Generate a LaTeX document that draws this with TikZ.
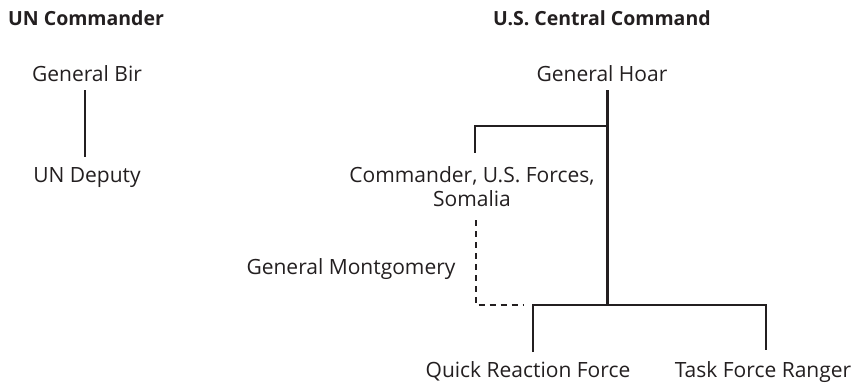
\documentclass[tikz,border=0pt]{standalone}
\usepackage{fontspec}
\setmainfont{Open Sans}
\usetikzlibrary{calc}
\definecolor{ink}{HTML}{231F20}
\begin{document}
\begin{tikzpicture}[x=1bp,y=-1bp,
  every node/.style={inner sep=0pt, anchor=base, text=ink, font=\fontsize{21bp}{24bp}\selectfont},
  title/.style={anchor=base west, font=\fontsize{19.5bp}{24bp}\selectfont\bfseries},
  conn/.style={draw=ink, line width=2.6bp},
  tacon/.style={draw=ink, line width=1.8bp, dash pattern=on 6bp off 5bp}]
\useasboundingbox (0,0) rectangle (855,382);
\node[title] (unc) at (8,25) {UN Commander};
\node[title] (usc) at (493,25) {U.S. Central Command};
\node (bir) at (87,81) {General Bir};
\node (dep) at (87,182) {UN Deputy};
\node (hoar) at (602,81) {General Hoar};
\node[align=center] (cusf) at (472,206) {Commander, U.S. Forces,\\Somalia};
\node (mont) at (351,274) {General Montgomery};
\node (qrf) at (528,377) {Quick Reaction Force};
\node (tfr) at (763,377) {Task Force Ranger};
\coordinate (j1) at ($(hoar.base)+(5.7,45)$);
\coordinate (j2) at ($(hoar.base)+(5.7,224)$);
\coordinate (j3) at ($(qrf.base)+(5,-72)$);
\draw[conn] ($(bir.base)+(-2,9)$) -- ($(dep.base)+(-2,-25)$);
\draw[conn] ($(hoar.base)+(5.7,9)$) -- (j2);
\draw[conn] (j1) -| ($(cusf.base)+(3,-53)$);
\draw[conn] ($(qrf.base)+(5,-25)$) -- (j3) -| ($(tfr.base)+(3,-27)$);
\draw[tacon] ($(cusf.base)+(3.7,14)$) |- ($(j3)+(-10,0)$);
\end{tikzpicture}
\end{document}
